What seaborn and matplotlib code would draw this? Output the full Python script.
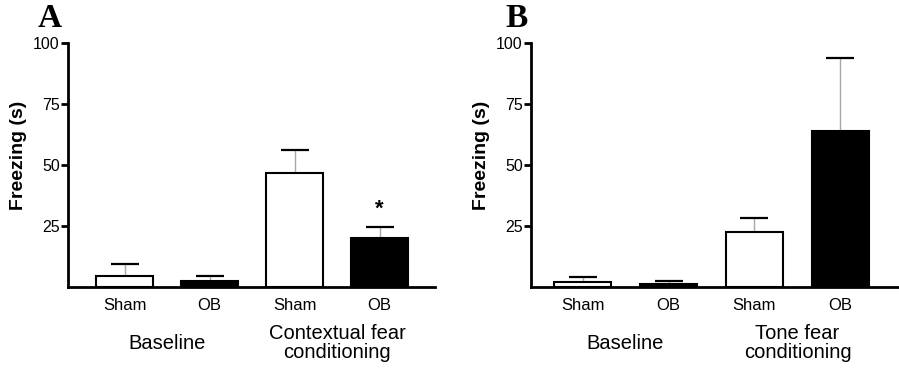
import matplotlib
matplotlib.use("Agg")
import matplotlib.pyplot as plt
import matplotlib.transforms as mtransforms
import seaborn as sns
import pandas as pd
import numpy as np

# ---- data ----
bar_keys = ["Baseline Sham", "Baseline OB", "Fear Sham", "Fear OB"]
bar_labels = ["Sham", "OB", "Sham", "OB"]
bar_groups = ["Sham", "OB", "Sham", "OB"]
context_means = [4.5, 2.5, 46.9, 20.2]
context_errs = [4.9, 1.9, 9.4, 4.5]
tone_means = [2.0, 1.4, 22.4, 64.1]
tone_errs = [2.2, 1.2, 5.9, 29.9]
panel_letters = ["A", "B"]
group_titles_a = ["Baseline", "Contextual fear\nconditioning"]
group_titles_b = ["Baseline", "Tone fear\nconditioning"]
yticks = [25, 50, 75, 100]
star_value = 32.0

sns.set_theme(style="white")
plt.rcParams["font.family"] = ["Liberation Sans", "DejaVu Sans"]
plt.rcParams["text.color"] = "black"
plt.rcParams["axes.labelcolor"] = "black"
plt.rcParams["xtick.color"] = "black"
plt.rcParams["ytick.color"] = "black"

fig = plt.figure(figsize=(8.99, 3.70), dpi=100)
ax_a = fig.add_axes([68/899, 83/370, 367/899, 244/370])
ax_b = fig.add_axes([531/899, 83/370, 367/899, 244/370])

palette = {"Sham": "white", "OB": "black"}


def draw_panel(ax, means, errs, titles, letter, xlim, letter_x):
    df = pd.DataFrame({"key": bar_keys, "value": means, "group": bar_groups})
    sns.barplot(data=df, x="key", y="value", hue="group", palette=palette,
                dodge=False, edgecolor="black", linewidth=1.5, width=0.67,
                order=bar_keys, legend=False, ax=ax, zorder=3)
    pos = np.arange(len(means))
    eb = ax.errorbar(pos, means, yerr=[np.zeros(len(errs)), errs], fmt="none",
                     ecolor="#a8a8a8", elinewidth=1.0, capsize=10, capthick=1.6,
                     zorder=2)
    caps = eb[1]
    for c in caps:
        c.set_color("black")
        c.set_markeredgecolor("black")
        c.set_markerfacecolor("black")
    if len(caps) == 2:
        caps[0].set_visible(False)
    ax.set_ylim(0, 100)
    ax.set_xlim(*xlim)
    ax.set_yticks(yticks)
    ax.set_yticklabels([str(t) for t in yticks], fontsize=11.5)
    ax.set_xticks(pos)
    ax.set_xticklabels(bar_labels, fontsize=12)
    ax.set_xlabel("")
    ax.set_ylabel("Freezing (s)", fontsize=14, fontweight="bold")
    ax.yaxis.set_label_coords(-0.112, 0.54)
    for s in ["top", "right"]:
        ax.spines[s].set_visible(False)
    for s in ["left", "bottom"]:
        ax.spines[s].set_linewidth(2)
        ax.spines[s].set_color("black")
    ax.tick_params(axis="y", direction="out", length=5, width=2, pad=1,
                   left=True, colors="black")
    ax.tick_params(axis="x", length=0, pad=8, colors="black")
    trans = mtransforms.blended_transform_factory(ax.transData, ax.transAxes)
    ax.text(0.5, -0.23, titles[0], transform=trans, ha="center",
            va="center", fontsize=14.5)
    ax.text(2.5, -0.23, titles[1], transform=trans, ha="center",
            va="center", fontsize=14.5, linespacing=1.05)
    fig.text(letter_x, 0.95, letter, fontsize=24, fontweight="bold",
             family="Liberation Serif", ha="center", va="center")


draw_panel(ax_a, context_means, context_errs, group_titles_a, "A",
           (-0.665, 3.65), 50/899)
draw_panel(ax_b, tone_means, tone_errs, group_titles_b, "B",
           (-0.6, 3.67), 517/899)

ax_a.text(3, star_value, "*", ha="center", va="center", fontsize=16,
          fontweight="bold")

fig.savefig("out.png", dpi=100)
